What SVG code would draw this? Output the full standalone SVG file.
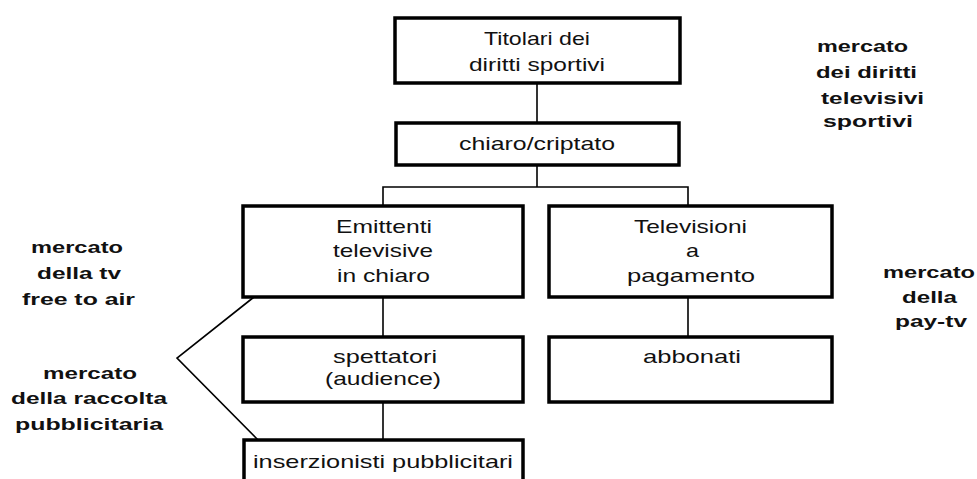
<svg xmlns="http://www.w3.org/2000/svg" width="977" height="479" viewBox="0 0 977 479">
<style>
.box{fill:#fff;stroke:#000;stroke-width:3.5}
.t{font-family:"Liberation Sans",Arial,sans-serif;font-size:19px;fill:#111}
.b{font-family:"Liberation Sans",Arial,sans-serif;font-size:16.5px;font-weight:bold;fill:#111}
.c{fill:none;stroke:#000;stroke-width:1.6}
</style>
<rect width="977" height="479" fill="#fff"/>
<g id="connectors">
<line class="c" x1="537" y1="83" x2="537" y2="123"/>
<line class="c" x1="537" y1="165" x2="537" y2="187"/>
<polyline class="c" points="383,206 383,187 688,187 688,206"/>
<line class="c" x1="383" y1="297" x2="383" y2="337"/>
<line class="c" x1="383" y1="402" x2="383" y2="440"/>
<line class="c" x1="688" y1="297" x2="688" y2="337"/>
<polyline class="c" points="254,297 177,358 258,440"/>
</g>
<g id="titolari">
<rect class="box" x="395" y="18" width="285" height="65"/>
<text class="t" x="484" y="45" textLength="106" lengthAdjust="spacingAndGlyphs">Titolari dei</text>
<text class="t" x="469" y="71" textLength="136" lengthAdjust="spacingAndGlyphs">diritti sportivi</text>
</g>
<g id="chiaro">
<rect class="box" x="396" y="123" width="283" height="42"/>
<text class="t" x="459" y="150" textLength="156" lengthAdjust="spacingAndGlyphs">chiaro/criptato</text>
</g>
<g id="emittenti">
<rect class="box" x="243" y="206" width="280" height="91"/>
<text class="t" x="336" y="233" textLength="96" lengthAdjust="spacingAndGlyphs">Emittenti</text>
<text class="t" x="333" y="257" textLength="100" lengthAdjust="spacingAndGlyphs">televisive</text>
<text class="t" x="337" y="282" textLength="93" lengthAdjust="spacingAndGlyphs">in chiaro</text>
</g>
<g id="televisioni">
<rect class="box" x="549" y="206" width="283" height="91"/>
<text class="t" x="634" y="233" textLength="113" lengthAdjust="spacingAndGlyphs">Televisioni</text>
<text class="t" x="686" y="257" textLength="13" lengthAdjust="spacingAndGlyphs">a</text>
<text class="t" x="627" y="282" textLength="128" lengthAdjust="spacingAndGlyphs">pagamento</text>
</g>
<g id="spettatori">
<rect class="box" x="243" y="337" width="280" height="65"/>
<text class="t" x="333" y="363" textLength="104" lengthAdjust="spacingAndGlyphs">spettatori</text>
<text class="t" x="325" y="385" textLength="116" lengthAdjust="spacingAndGlyphs">(audience)</text>
</g>
<g id="abbonati">
<rect class="box" x="549" y="337" width="283" height="65"/>
<text class="t" x="643" y="363" textLength="98" lengthAdjust="spacingAndGlyphs">abbonati</text>
</g>
<g id="inserzionisti">
<rect class="box" x="244" y="440" width="279" height="45"/>
<text class="t" x="253" y="468" textLength="260" lengthAdjust="spacingAndGlyphs">inserzionisti pubblicitari</text>
</g>
<g id="label-diritti">
<text class="b" x="817" y="52" textLength="91" lengthAdjust="spacingAndGlyphs">mercato</text>
<text class="b" x="816" y="78" textLength="101" lengthAdjust="spacingAndGlyphs">dei diritti</text>
<text class="b" x="821" y="104" textLength="103" lengthAdjust="spacingAndGlyphs">televisivi</text>
<text class="b" x="823" y="127" textLength="90" lengthAdjust="spacingAndGlyphs">sportivi</text>
</g>
<g id="label-free">
<text class="b" x="31" y="253" textLength="92" lengthAdjust="spacingAndGlyphs">mercato</text>
<text class="b" x="37" y="279" textLength="84" lengthAdjust="spacingAndGlyphs">della tv</text>
<text class="b" x="22" y="305" textLength="113" lengthAdjust="spacingAndGlyphs">free to air</text>
</g>
<g id="label-pubblicitaria">
<text class="b" x="43" y="379" textLength="94" lengthAdjust="spacingAndGlyphs">mercato</text>
<text class="b" x="11" y="404" textLength="156" lengthAdjust="spacingAndGlyphs">della raccolta</text>
<text class="b" x="15" y="430" textLength="148" lengthAdjust="spacingAndGlyphs">pubblicitaria</text>
</g>
<g id="label-paytv">
<text class="b" x="883" y="278" textLength="92" lengthAdjust="spacingAndGlyphs">mercato</text>
<text class="b" x="902" y="303" textLength="55" lengthAdjust="spacingAndGlyphs">della</text>
<text class="b" x="895" y="327" textLength="72" lengthAdjust="spacingAndGlyphs">pay-tv</text>
</g>
</svg>
